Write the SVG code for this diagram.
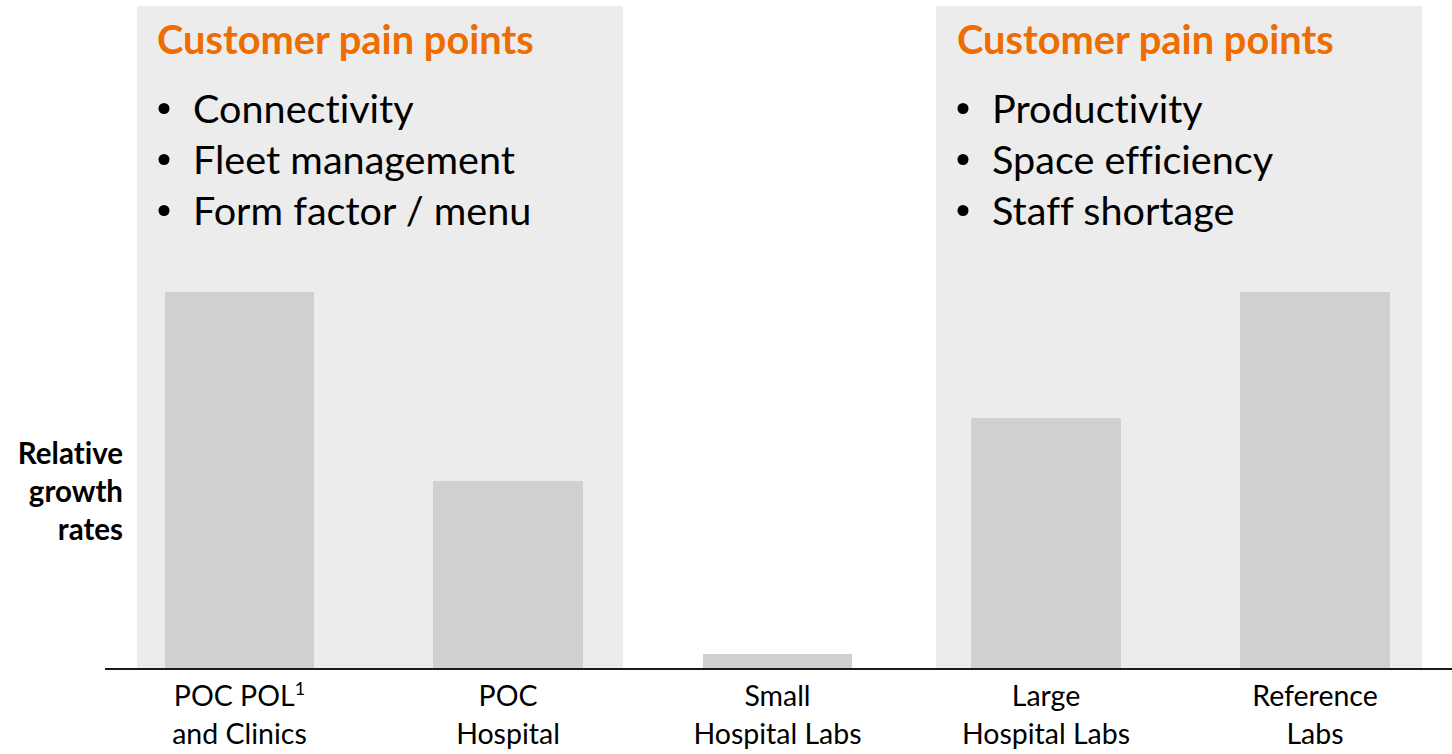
<svg xmlns="http://www.w3.org/2000/svg" width="1452" height="754" viewBox="0 0 1452 754">
<style>
text{font-variant-ligatures:none}
.panel{fill:#ECECEC}
.bar{fill:#D0D0D0}
.title{font-family:Lato,"Open Sans",sans-serif;font-weight:bold;font-size:39.8px;fill:#EE6C00}
.bul{font-family:Lato,"Open Sans",sans-serif;font-size:39.6px;fill:#000}
.dot{fill:#000}
.lab{font-family:Lato,"Open Sans",sans-serif;font-size:28.5px;fill:#000;text-anchor:middle}
.ylab{font-family:Lato,"Open Sans",sans-serif;font-weight:bold;font-size:29.5px;fill:#000;text-anchor:end}
</style>
<rect width="1452" height="754" fill="#FFFFFF"/>
<g id="panel-left">
<rect class="panel" x="137" y="6" width="486" height="662"/>
<text class="title" x="157" y="54">Customer pain points</text>
<circle class="dot" cx="164" cy="108.5" r="5.5"/>
<circle class="dot" cx="164" cy="159.5" r="5.5"/>
<circle class="dot" cx="164" cy="210.5" r="5.5"/>
<text class="bul" x="193" y="123">Connectivity</text>
<text class="bul" x="193" y="174">Fleet management</text>
<text class="bul" x="193" y="225">Form factor / menu</text>
</g>
<g id="panel-right">
<rect class="panel" x="936" y="6" width="486" height="662"/>
<text class="title" x="957" y="54">Customer pain points</text>
<circle class="dot" cx="963" cy="108.5" r="5.5"/>
<circle class="dot" cx="963" cy="159.5" r="5.5"/>
<circle class="dot" cx="963" cy="210.5" r="5.5"/>
<text class="bul" x="992" y="123">Productivity</text>
<text class="bul" x="992" y="174">Space efficiency</text>
<text class="bul" x="992" y="225">Staff shortage</text>
</g>
<g id="ylabel">
<text class="ylab" x="123" y="464">Relative</text>
<text class="ylab" x="123" y="502">growth</text>
<text class="ylab" x="123" y="540">rates</text>
</g>
<g id="bar-poc-pol">
<rect class="bar" x="165" y="292" width="149" height="377"/>
<text class="lab" x="239.5" y="706">POC POL<tspan font-size="18" dy="-11">1</tspan></text>
<text class="lab" x="239.5" y="744">and Clinics</text>
</g>
<g id="bar-poc-hospital">
<rect class="bar" x="433" y="481" width="150" height="188"/>
<text class="lab" x="508" y="706">POC</text>
<text class="lab" x="508" y="744">Hospital</text>
</g>
<g id="bar-small-labs">
<rect class="bar" x="703" y="654" width="149" height="15"/>
<text class="lab" x="777.5" y="706">Small</text>
<text class="lab" x="777.5" y="744">Hospital Labs</text>
</g>
<g id="bar-large-labs">
<rect class="bar" x="971" y="418" width="150" height="251"/>
<text class="lab" x="1046" y="706">Large</text>
<text class="lab" x="1046" y="744">Hospital Labs</text>
</g>
<g id="bar-reference-labs">
<rect class="bar" x="1240" y="292" width="150" height="377"/>
<text class="lab" x="1315" y="706">Reference</text>
<text class="lab" x="1315" y="744">Labs</text>
</g>
<g id="connectors">
<line x1="105" y1="669" x2="1452" y2="669" stroke="#1A1A1A" stroke-width="2"/>
</g>
</svg>
